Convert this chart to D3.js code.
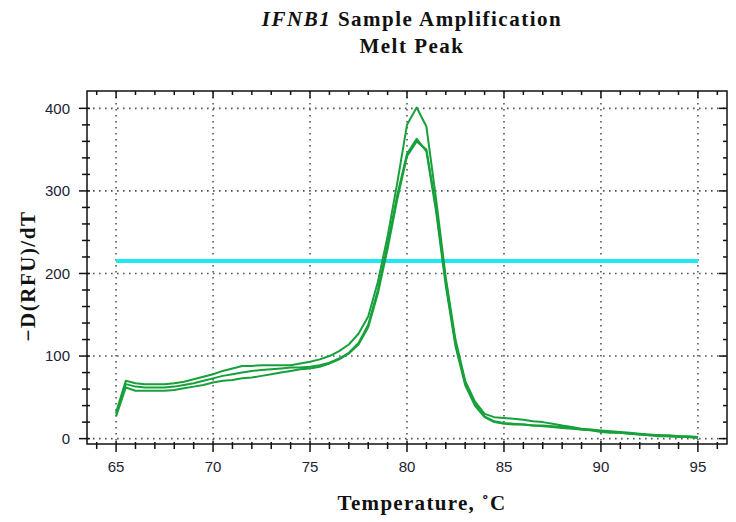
<!DOCTYPE html>
<html>
<head>
<meta charset="utf-8">
<script src="https://cdn.jsdelivr.net/npm/d3@7"></script>
<style>
  body { margin: 0; background: #fff; }
  svg { display: block; }
</style>
</head>
<body>
<script>
// melt curves, every 0.5 C
const temps = d3.range(65, 95.01, 0.5);

const wellA = [32, 70, 67, 66, 66, 66, 67, 69, 72, 75, 78, 82, 85, 88, 88, 89, 89, 89, 89, 91,
  93, 96, 100, 106, 114, 127, 148, 190, 245, 310, 380, 401, 378, 290, 195, 120, 70, 45, 30, 26,
  25, 24, 23, 21, 20, 18, 16, 14, 12, 11, 10, 9, 8, 7, 6, 5, 4, 4, 3, 3, 2];
const wellB = [30, 66, 63, 62, 62, 62, 63, 65, 67, 70, 73, 76, 78, 80, 82, 83, 84, 85, 86, 86,
  87, 89, 92, 97, 104, 116, 138, 180, 235, 295, 345, 363, 348, 275, 185, 112, 65, 40, 26, 20,
  18, 17, 17, 16, 16, 15, 14, 13, 11, 10, 8, 7, 7, 6, 5, 4, 4, 3, 3, 2, 1];
const wellC = [27, 62, 58, 58, 58, 58, 59, 61, 63, 65, 68, 70, 71, 73, 74, 76, 78, 80, 82, 84,
  85, 87, 91, 96, 103, 114, 135, 176, 230, 290, 342, 360, 350, 280, 190, 115, 68, 42, 27, 21,
  19, 18, 17, 16, 15, 14, 13, 12, 11, 10, 9, 8, 7, 6, 5, 4, 3, 3, 2, 2, 1];

const threshold = 215;
const xTicks = [65, 70, 75, 80, 85, 90, 95];
const yTicks = [0, 100, 200, 300, 400];

const W = 736, H = 522;
const frame = {left: 87, right: 727, top: 91, bottom: 444};

const svg = d3.select("body").append("svg")
  .attr("width", W)
  .attr("height", H);

const x = d3.scaleLinear().domain([63.5, 96.5]).range([frame.left, frame.right]);
const y = d3.scaleLinear().domain([-6.5, 421]).range([frame.bottom, frame.top]);

// dotted grid
svg.append("g").selectAll("line")
  .data(xTicks)
  .enter().append("line")
  .attr("x1", d => x(d)).attr("x2", d => x(d))
  .attr("y1", frame.top).attr("y2", frame.bottom)
  .attr("stroke", "#555")
  .attr("stroke-width", 1.6)
  .attr("stroke-dasharray", "1.6,4.4");

svg.append("g").selectAll("line")
  .data(yTicks)
  .enter().append("line")
  .attr("x1", frame.left).attr("x2", frame.right)
  .attr("y1", d => y(d)).attr("y2", d => y(d))
  .attr("stroke", "#555")
  .attr("stroke-width", 1.6)
  .attr("stroke-dasharray", "1.6,4.4");

// threshold line
svg.append("line")
  .attr("x1", x(65)).attr("x2", x(95))
  .attr("y1", y(threshold)).attr("y2", y(threshold))
  .attr("stroke", "#1ee8f2")
  .attr("stroke-width", 4);

// curves
const line = d3.line()
  .x((d, i) => x(temps[i]))
  .y(d => y(d));

[wellA, wellB, wellC].forEach(s => {
  svg.append("path")
    .datum(s)
    .attr("fill", "none")
    .attr("stroke", "#17a03b")
    .attr("stroke-width", 2)
    .attr("stroke-linejoin", "round")
    .attr("d", line);
});

// frame
svg.append("rect")
  .attr("x", frame.left).attr("y", frame.top)
  .attr("width", frame.right - frame.left).attr("height", frame.bottom - frame.top)
  .attr("fill", "none")
  .attr("stroke", "#111")
  .attr("stroke-width", 1.5);

const xMinor = d3.range(64, 96.01, 1);
const yMinor = d3.range(0, 420, 20);

function ticks(sel) {
  sel.attr("stroke", "#111").attr("stroke-width", 1.5);
}

// bottom axis: ticks cross the line
svg.append("g").selectAll("line")
  .data(xMinor)
  .enter().append("line")
  .attr("x1", d => x(d)).attr("x2", d => x(d))
  .attr("y1", d => frame.bottom - (d % 5 === 0 ? 3 : 2))
  .attr("y2", d => frame.bottom + (d % 5 === 0 ? 8 : 5))
  .call(ticks);

// top frame ticks hang inwards
svg.append("g").selectAll("line")
  .data(xMinor)
  .enter().append("line")
  .attr("x1", d => x(d)).attr("x2", d => x(d))
  .attr("y1", frame.top)
  .attr("y2", d => frame.top + (d % 5 === 0 ? 7 : 4))
  .call(ticks);

// left axis
svg.append("g").selectAll("line")
  .data(yMinor)
  .enter().append("line")
  .attr("y1", d => y(d)).attr("y2", d => y(d))
  .attr("x1", d => frame.left - (d % 100 === 0 ? 8 : 5))
  .attr("x2", frame.left + 3)
  .call(ticks);

// right frame ticks point inwards
svg.append("g").selectAll("line")
  .data(yMinor)
  .enter().append("line")
  .attr("y1", d => y(d)).attr("y2", d => y(d))
  .attr("x1", d => frame.right - (d % 100 === 0 ? 8 : 4))
  .attr("x2", frame.right)
  .call(ticks);

// tick labels
svg.append("g").selectAll("text")
  .data(yTicks)
  .enter().append("text")
  .attr("x", frame.left - 17)
  .attr("y", d => y(d))
  .attr("dy", "0.36em")
  .attr("text-anchor", "end")
  .style("font", "15px 'Liberation Sans', Arial, sans-serif")
  .attr("fill", "#223")
  .text(d => d);

svg.append("g").selectAll("text")
  .data(xTicks)
  .enter().append("text")
  .attr("x", d => x(d))
  .attr("y", 472)
  .attr("text-anchor", "middle")
  .style("font", "15px 'Liberation Sans', Arial, sans-serif")
  .attr("fill", "#223")
  .text(d => d);

// titles
const serif = "'Liberation Serif', 'DejaVu Serif', serif";
const title = svg.append("text")
  .attr("x", 412).attr("y", 26)
  .attr("text-anchor", "middle")
  .style("font-family", serif)
  .style("font-weight", "bold")
  .style("font-size", "21px")
  .style("letter-spacing", "1.5px")
  .attr("fill", "#111");
title.append("tspan").style("font-style", "italic").text("IFNB1");
title.append("tspan").text(" Sample Amplification");

svg.append("text")
  .attr("x", 412).attr("y", 53)
  .attr("text-anchor", "middle")
  .style("font-family", serif)
  .style("font-weight", "bold")
  .style("font-size", "21px")
  .style("letter-spacing", "1.5px")
  .attr("fill", "#111")
  .text("Melt Peak");

svg.append("text")
  .attr("x", 422).attr("y", 510)
  .attr("text-anchor", "middle")
  .style("font-family", serif)
  .style("font-weight", "bold")
  .style("font-size", "21px")
  .style("letter-spacing", "1.3px")
  .attr("fill", "#111")
  .text("Temperature, ˚C");

svg.append("text")
  .attr("transform", "translate(35,276) rotate(-90)")
  .attr("text-anchor", "middle")
  .style("font-family", serif)
  .style("font-weight", "bold")
  .style("font-size", "21px")
  .style("letter-spacing", "1.5px")
  .attr("fill", "#111")
  .text("−D(RFU)/dT");
</script>
</body>
</html>
